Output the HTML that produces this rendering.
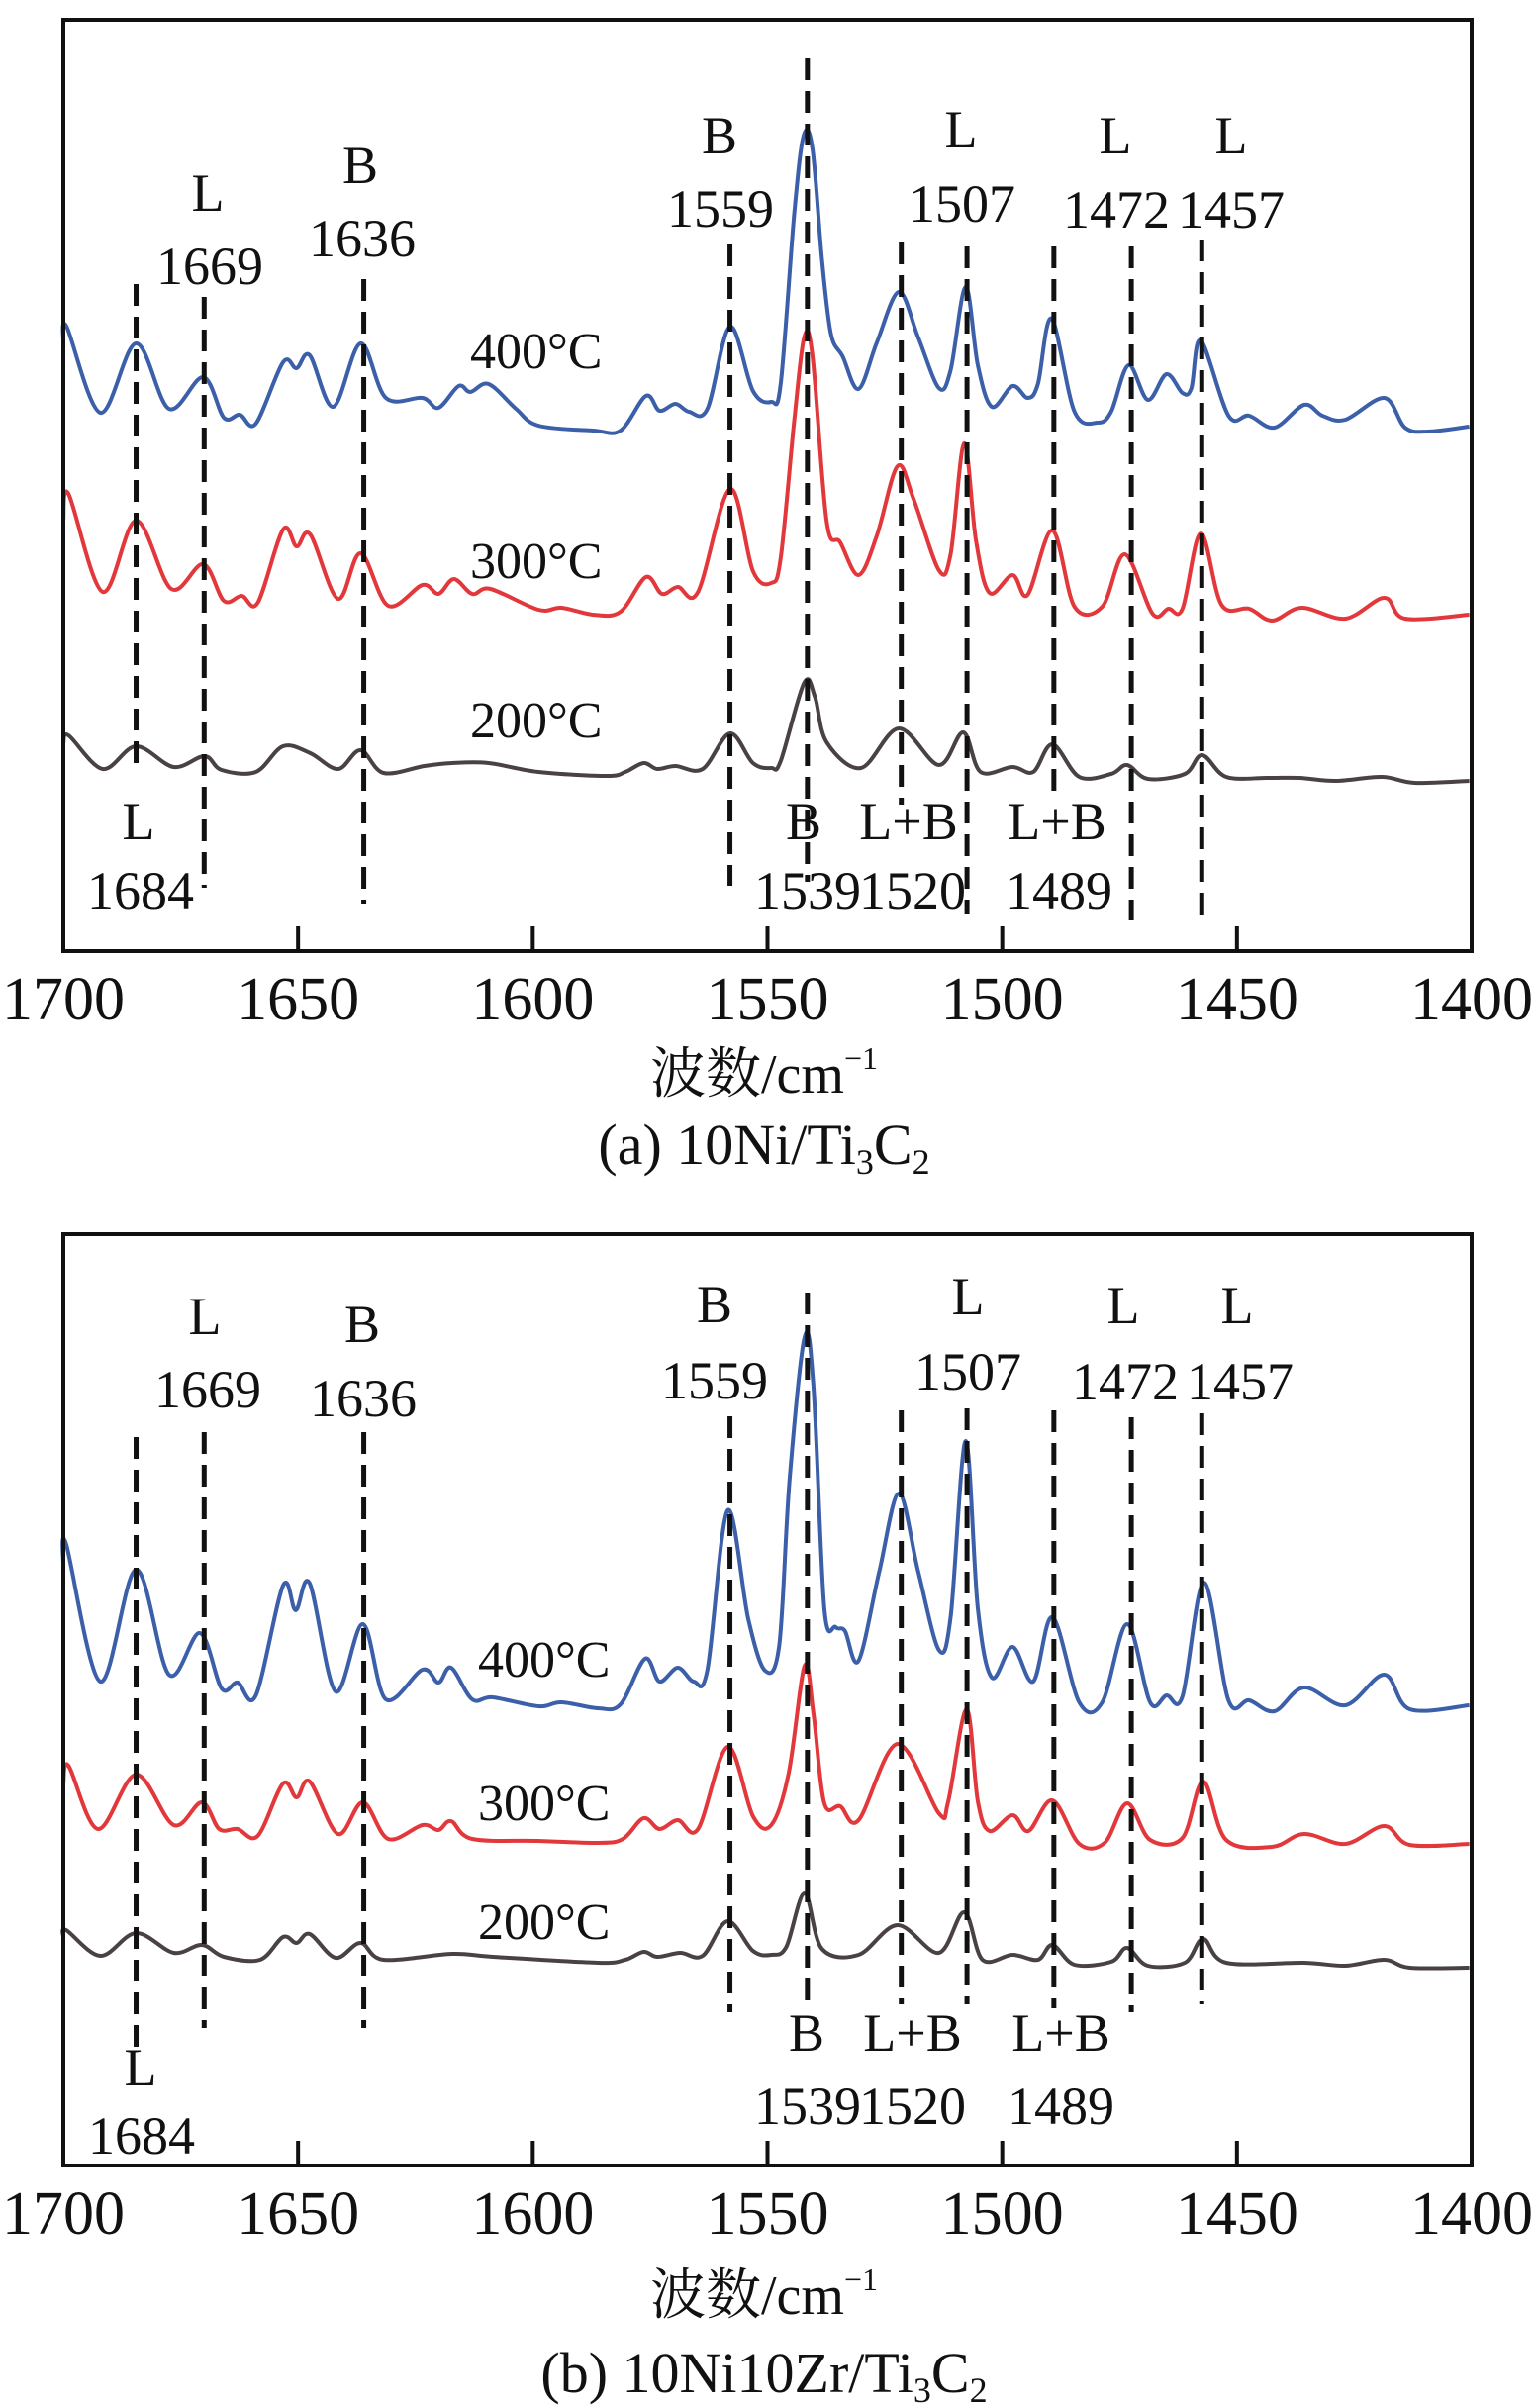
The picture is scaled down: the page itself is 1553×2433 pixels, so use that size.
<!DOCTYPE html>
<html><head><meta charset="utf-8"><style>
html,body{margin:0;padding:0;background:#fff;}
svg{display:block;}
text{font-family:"Liberation Serif","Noto Serif CJK SC",serif;fill:#111;}
</style></head>
<body>
<svg id="chart" width="1553" height="2433" viewBox="0 0 1553 2433" xmlns="http://www.w3.org/2000/svg">
<g id="panelA"></g>
<g id="panelB"></g>
</svg>
<script>
// ---- data ----
const xTicks = [1700, 1650, 1600, 1550, 1500, 1450, 1400];
const tempLabels = ["400°C", "300°C", "200°C"];
const peakWn = [1684.5, 1670, 1636, 1558, 1541.5, 1521.5, 1507.5, 1489, 1472.5, 1457.5];

const aBlue = [[1700,62],[1699.3,63.6],[1692.1,54.9],[1684.5,61.9],[1677.5,55.3],[1670.2,58.5],[1665.8,54.4],[1662.4,54.7],[1659,53.8],[1653.2,60],[1650.3,59.4],[1647.5,60.7],[1642.5,55.5],[1636.7,61.9],[1631.3,56.4],[1623.5,56.4],[1620.1,55.4],[1615.8,57.6],[1613.3,57],[1609.4,57.8],[1603.6,55.3],[1598.8,53.6],[1587.1,53.1],[1581.3,53.1],[1575.9,56.6],[1573,55.1],[1569.6,55.8],[1566.7,55],[1562.8,55.3],[1558,63.6],[1553.1,57.1],[1549.2,56],[1547.2,57.8],[1544.3,75],[1542.3,82.9],[1540.4,81.5],[1538.4,70.4],[1536.5,62.9],[1534,60.6],[1530.6,57.3],[1526.7,62],[1522,67.1],[1517.9,62.5],[1513.5,57.4],[1511,59.2],[1507.8,67.6],[1505.2,59.7],[1502.2,55.5],[1497.8,57.6],[1494.6,56.4],[1492.4,57.8],[1489.5,64.4],[1484.6,55],[1479.7,53.9],[1476.8,55],[1473.1,59.7],[1469,56.2],[1465,58.8],[1461.6,56.9],[1459.7,57.4],[1457.7,62.2],[1451.8,54.6],[1447.4,54.6],[1442,53.4],[1435.7,55.7],[1431.8,54.6],[1426.9,54.2],[1418.6,56.4],[1414.2,53.4],[1409.3,53.0],[1400.5,53.5]];
const aRed = [[1700,44],[1698.9,46.7],[1691.6,36.8],[1684.5,44],[1677,37.1],[1670.2,39.6],[1665.8,35.9],[1662,36.4],[1658.6,35.7],[1653.2,43.1],[1650.3,41.4],[1647.4,42.6],[1641.5,36.1],[1636.7,40.7],[1630.8,35.4],[1623.5,37.5],[1620.1,36.6],[1616.8,38.1],[1612.9,36.6],[1609,37.1],[1598.8,35],[1593.9,35.2],[1587.1,34.5],[1581.3,34.8],[1575.9,38.3],[1572.5,36.6],[1569.1,37.3],[1564.8,36.8],[1558,47.2],[1553.1,38.9],[1549.2,37.7],[1547.2,40.2],[1544.3,54.1],[1542.2,62.5],[1540.4,60.6],[1537.4,43.9],[1534.5,41.8],[1530.6,38.5],[1526.7,42.5],[1522.3,49.5],[1518.9,46.2],[1513.5,39],[1511,40.6],[1508.1,51.8],[1505.6,42],[1502.7,36.7],[1497.8,38.5],[1494.6,36.5],[1489.3,43],[1484.6,35.3],[1478.7,35.3],[1473.9,40.6],[1468,34.6],[1464.6,35.1],[1461.6,35.1],[1457.7,42.7],[1453.3,35.5],[1447.4,35.1],[1442.5,33.9],[1436.2,35.2],[1426.9,34.1],[1418.6,36.2],[1414.2,34.1],[1400.5,34.5]];
const aBlack = [[1700,21.5],[1698.9,22.3],[1691.6,18.9],[1684.5,21.2],[1676.5,19.1],[1669.9,20.2],[1666.3,18.8],[1659,18.6],[1653.2,21.2],[1647.4,20.5],[1641.5,18.9],[1636.7,20.8],[1631.8,18.5],[1623.1,19.2],[1617.2,19.5],[1609.4,19.5],[1598.8,18.6],[1584.2,18.2],[1580.3,18.6],[1576.4,19.5],[1573.5,18.9],[1569.6,19.2],[1563.8,18.9],[1558,22.5],[1553.1,19.5],[1549.2,19],[1547.2,19.7],[1542.2,27.6],[1539.9,26.2],[1537.4,21.6],[1530.1,19],[1522,23],[1513.5,19.3],[1508.3,22.6],[1504.6,18.6],[1497.8,19.1],[1493.4,18.6],[1489.3,21.4],[1483.6,18.1],[1476.8,18.4],[1473.4,19.3],[1469,17.9],[1461.1,18.4],[1457.4,20.3],[1452.3,18.1],[1443.5,18],[1436.7,18],[1428.9,17.7],[1419.1,18.1],[1412.2,17.5],[1400.5,17.7]];

const bBlue = [[1700,61],[1699.4,63.2],[1692.1,49.3],[1684.5,60.6],[1677.5,50],[1670.9,54.2],[1666.3,48.6],[1662.9,49.2],[1659,47.9],[1653.2,59],[1650.5,56.5],[1647.5,59.2],[1642,48.3],[1636.2,55.1],[1631.3,47.5],[1623.5,50.5],[1620.1,49.2],[1617.4,50.7],[1612.9,47.5],[1608.5,47.7],[1598.8,46.8],[1593.9,47.2],[1586.1,46.6],[1581.3,47],[1576.1,51.6],[1573,49.3],[1569.1,50.7],[1565.7,49.3],[1562.8,50.5],[1558.5,66.6],[1554.1,55.6],[1550.5,50.4],[1547.5,53],[1545.3,69.7],[1542.1,84.1],[1540.2,79],[1537.9,56.7],[1535.5,54.8],[1533.5,54.4],[1530.6,51.4],[1526.2,60.4],[1522,68.3],[1517.9,60.4],[1513.5,52.5],[1511,55.8],[1507.8,73.6],[1505.2,56.7],[1502.2,49.7],[1497.8,52.8],[1493.4,49.3],[1489.3,55.8],[1483.6,47.2],[1478.7,47.2],[1473.4,55.1],[1468.5,47.2],[1465,47.9],[1461.6,47.8],[1457,59.3],[1451.8,47.4],[1447.4,47.4],[1442,46.3],[1435.7,48.7],[1426.9,46.9],[1418.6,50],[1413.2,46.5],[1400.5,46.9]];
const bRed = [[1700,39],[1698.9,40.8],[1692.6,34.4],[1684.5,39.9],[1676.5,34.8],[1670.5,37.1],[1666.8,34.4],[1662.9,34.4],[1658.6,33.7],[1653.2,39],[1650.3,37.6],[1647.5,39.2],[1641.5,33.9],[1636.2,37.1],[1630.8,33.4],[1623.5,34.8],[1620.1,34.3],[1617.4,35.2],[1612.9,33.4],[1598.8,33.2],[1586.1,33],[1580.8,33.4],[1576.4,35.5],[1573,34.4],[1569.1,35.3],[1564.8,34.4],[1558.5,42.7],[1553.1,35.7],[1549.2,34.8],[1545.5,40],[1542.1,50.9],[1540.2,46],[1537.9,37],[1534.5,36.7],[1530.6,35.3],[1522.3,43],[1513.5,36],[1511.5,37.2],[1507.6,46.5],[1505.2,37.2],[1502.7,34.2],[1497.8,35.8],[1494.4,34.2],[1489.3,37.3],[1483.6,32.9],[1478.2,33],[1473.4,37],[1468.5,33.3],[1461.6,33.5],[1457.2,39.2],[1452.3,33.3],[1442.5,32.6],[1435.7,33.9],[1426.9,32.9],[1418.6,34.7],[1413.2,32.8],[1400.5,32.9]];
const bBlack = [[1700,23.5],[1699.4,24.2],[1692.1,21.6],[1684.5,23.9],[1676.5,21.9],[1670.5,22.7],[1665.8,21.5],[1658.1,21.2],[1653.2,23.5],[1650.3,22.9],[1647.5,23.8],[1642,21.4],[1636.7,22.9],[1631.8,21.2],[1617.2,21.8],[1608.5,21.5],[1586.1,20.9],[1580.3,21.2],[1576.4,22],[1573.5,21.5],[1568.6,21.9],[1563.8,21.6],[1558.5,25.1],[1553.1,22.1],[1549.2,21.7],[1546,22.5],[1542.1,27.9],[1538.4,22.3],[1530.6,21.7],[1522.3,24.7],[1513.5,21.9],[1508.1,26],[1504.2,21.2],[1497.8,21.7],[1492.4,21.2],[1489.3,22.7],[1484.6,20.7],[1476.8,21],[1473.4,22.4],[1469,20.6],[1461.1,20.9],[1457.2,23.3],[1452.3,20.9],[1435.7,20.9],[1426.9,20.6],[1418.6,21.2],[1413.2,20.4],[1400.5,20.4]];

// ---- layout ----
const NS = "http://www.w3.org/2000/svg";
const X0 = 64, X1 = 1487;
function xScale(wn){ return X0 + (1700 - wn) * (X1 - X0) / 300; }
function mk(parent, tag, attrs, txt){
  const e = document.createElementNS(NS, tag);
  for (const k in attrs) e.setAttribute(k, attrs[k]);
  if (txt !== undefined) e.textContent = txt;
  parent.appendChild(e);
  return e;
}
function smoothPath(P){
  let d = "M" + P[0][0].toFixed(1) + "," + P[0][1].toFixed(1);
  for (let i = 0; i < P.length - 1; i++) {
    const p0 = P[Math.max(0, i - 1)], p1 = P[i], p2 = P[i + 1], p3 = P[Math.min(P.length - 1, i + 2)];
    const c1x = p1[0] + (p2[0] - p0[0]) / 6, c1y = p1[1] + (p2[1] - p0[1]) / 6;
    const c2x = p2[0] - (p3[0] - p1[0]) / 6, c2y = p2[1] - (p3[1] - p1[1]) / 6;
    d += " C" + c1x.toFixed(1) + "," + c1y.toFixed(1) + " " + c2x.toFixed(1) + "," + c2y.toFixed(1) + " " + p2[0].toFixed(1) + "," + p2[1].toFixed(1);
  }
  return d;
}

const panels = [
 { g: document.getElementById("panelA"), top: 20, bottom: 961, base: 966,
   series: [aBlue, aRed, aBlack], tickBase: 1030, xlabY: 1104, capY: 1176, cap: "a", capTxt: "10Ni/Ti",
   dashTop: [287, 300, 282, 247, 59, 245, 249, 249, 249, 242],
   dashBot: [774, 897, 913, 895, 891, 813, 923, 805, 930, 930],
   tempX: 475, tempY: [372, 584, 745],
   topLbl: [["L",210,213],["1669",212,287],["B",364,185],["1636",366,259],["B",727,155],["1559",728,229],["L",971,149],["1507",972,224],["L",1127,155],["1472",1128,230],["L",1244,155],["1457",1244,230]],
   botLbl: [["L",140,848],["1684",142,918],["B",812,848],["L+B",918,848],["L+B",1068,848],["1539",816,918],["1520",922,918],["1489",1070,918]] },
 { g: document.getElementById("panelB"), top: 1247, bottom: 2188, base: 2192,
   series: [bBlue, bRed, bBlack], tickBase: 2257, xlabY: 2338, capY: 2417, cap: "b", capTxt: "10Ni10Zr/Ti",
   dashTop: [1452, 1447, 1447, 1431, 1306, 1425, 1423, 1425, 1432, 1428],
   dashBot: [2068, 2049, 2049, 2033, 2025, 2025, 2025, 2029, 2033, 2025],
   tempX: 483, tempY: [1694, 1839, 1959],
   topLbl: [["L",207,1348],["1669",210,1422],["B",366,1356],["1636",367,1431],["B",722,1336],["1559",722,1413],["L",978,1328],["1507",978,1404],["L",1135,1337],["1472",1137,1414],["L",1250,1337],["1457",1253,1414]],
   botLbl: [["L",142,2107],["1684",143,2176],["B",815,2072],["L+B",922,2072],["L+B",1072,2072],["1539",816,2146],["1520",922,2146],["1489",1072,2146]] }
];
const colors = ["#3c5fa9", "#e2383b", "#4a4242"];
const seriesNames = ["spectrum-400c", "spectrum-300c", "spectrum-200c"];

panels.forEach(function(p){
  const g = p.g;
  p.series.forEach(function(s, i){
    const P = s.map(function(d){ return [xScale(d[0]), p.base - d[1] * 10]; });
    const pl = mk(g, "path", {d: smoothPath(P), fill: "none", stroke: colors[i], "stroke-width": 4, "stroke-linejoin": "round"});
    
    
  });
  peakWn.forEach(function(w, i){
    const ln = mk(g, "line", {x1: xScale(w), x2: xScale(w), y1: p.dashTop[i], y2: p.dashBot[i], stroke: "#111", "stroke-width": 5, "stroke-dasharray": "22 11"});
    
    
  });
  const fr = mk(g, "rect", {x: X0, y: p.top, width: X1 - X0, height: p.bottom - p.top, fill: "none", stroke: "#111", "stroke-width": 4});
  
  
  xTicks.forEach(function(t){
    const x = xScale(t);
    if (t !== 1700 && t !== 1400) {
      const tk = mk(g, "line", {x1: x, x2: x, y1: p.bottom, y2: p.bottom - 25, stroke: "#111", "stroke-width": 4});
      
      
    }
    const tl = mk(g, "text", {x: x, y: p.tickBase, "text-anchor": "middle", "font-size": 62}, String(t));
    
    
  });
  tempLabels.forEach(function(t, i){
    const tt = mk(g, "text", {x: p.tempX, y: p.tempY[i], "font-size": 52}, t);
    
    
  });
  p.topLbl.concat(p.botLbl).forEach(function(l){
    const pt = mk(g, "text", {x: l[1], y: l[2], "text-anchor": "middle", "font-size": 54}, l[0]);
    
    
  });
  const xl = mk(g, "text", {x: 772, y: p.xlabY, "text-anchor": "middle", "font-size": 56});
  
  
  mk(xl, "tspan", {}, "波数/cm");
  mk(xl, "tspan", {"font-size": 32, dy: -24}, "−1");
  const cp = mk(g, "text", {x: 772, y: p.capY, "text-anchor": "middle", "font-size": 58});
  
  
  mk(cp, "tspan", {}, "(" + p.cap + ") " + p.capTxt);
  mk(cp, "tspan", {"font-size": 36, dy: 10}, "3");
  mk(cp, "tspan", {dy: -10}, "C");
  mk(cp, "tspan", {"font-size": 36, dy: 10}, "2");
});
</script>
</body></html>
